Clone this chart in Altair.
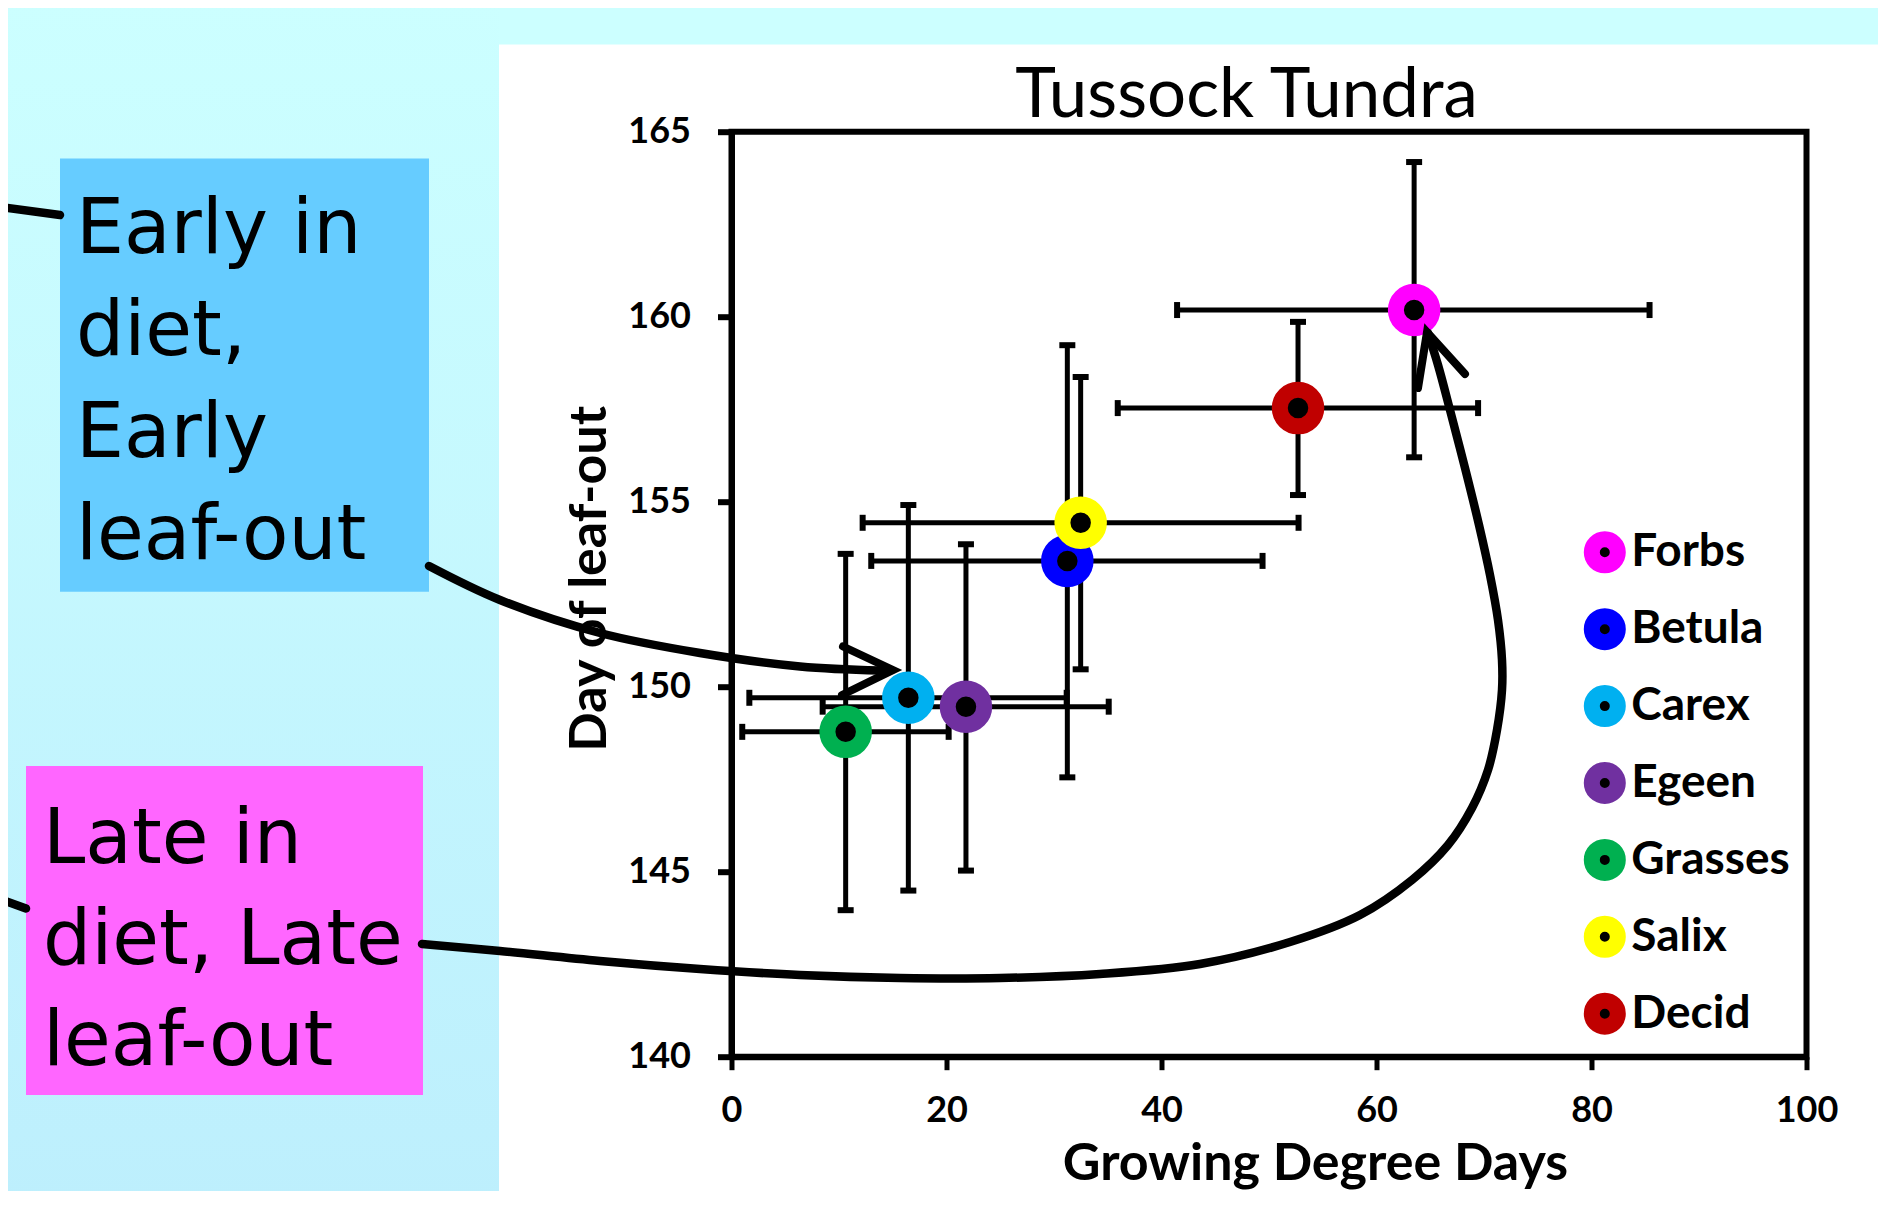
import altair as alt
import pandas as pd

# ---------------- data ----------------
groups = ["Forbs", "Betula", "Carex", "Egeen", "Grasses", "Salix", "Decid"]
colors = ["#FF00FF", "#0000FF", "#00B0F0", "#7030A0", "#00B050", "#FFFF00", "#C00000"]
gdd = [63.5, 31.24, 16.45, 21.81, 10.62, 32.48, 52.7]
gdd_lo = [41.45, 13.0, 1.66, 8.48, 1.0, 12.2, 35.93]
gdd_hi = [85.4, 49.4, 31.18, 35.09, 20.2, 52.75, 69.45]
day = [160.18, 153.4, 149.7, 149.46, 148.78, 154.43, 157.53]
day_lo = [156.2, 147.55, 144.49, 145.03, 143.96, 150.47, 155.18]
day_hi = [164.18, 159.23, 154.91, 153.85, 153.59, 158.37, 159.86]

x_ticks = [0, 20, 40, 60, 80, 100]
y_ticks = [140, 145, 150, 155, 160, 165]

df = pd.DataFrame({"Group": groups, "GDD": gdd, "GDD_lo": gdd_lo, "GDD_hi": gdd_hi,
                   "Day": day, "Day_lo": day_lo, "Day_hi": day_hi})

# ---------------- layout ----------------
PW, PH = 1075, 925          # plot area
PAD_L, PAD_T = 723.5, 123.7
TOTAL_W, TOTAL_H = 1870, 1183
PAD_R = TOTAL_W - PAD_L - PW
PAD_B = TOTAL_H - PAD_T - PH
OX, OY = 8 + PAD_L, 8 + PAD_T   # page position of plot origin

def px(v):  # page x -> plot x
    return v - OX

def py(v):  # page y -> plot y
    return v - OY

# annotation geometry (page pixels), converted to data units below
def to_gdd(v):
    return (v - OX) / (PW / 100.0)

def to_day(v):
    return 165 - (v - OY) / (PH / 25.0)

arrow_paths = {
    "early_tail": [(0, 207), (60, 215)],
    "early": [(429, 566), (500, 600), (600, 633), (700, 653), (800, 666.5), (880, 670.5), (890, 670.5)],
    "late_tail": [(0, 899), (26, 908.5)],
    "late": [(422, 944), (500, 951), (600, 961), (700, 969), (800, 975), (900, 978), (1000, 978),
             (1100, 974), (1200, 964), (1290, 942), (1360, 915), (1412, 880), (1448, 845),
             (1472, 808), (1488, 770), (1497, 730), (1502, 690), (1502, 660), (1498, 620),
             (1490, 575), (1479, 525), (1465, 468), (1450, 410), (1438, 365), (1428, 333)],
}
arrow_heads = {
    "early_head": [(843, 646.5), (893, 670), (842, 695)],
    "late_head": [(1418, 388), (1427, 332), (1465, 374)],
}

def path_df(paths):
    rows = []
    for name, pts in paths.items():
        for i, (a, b) in enumerate(pts):
            rows.append({"seg": name, "i": i, "GDD": to_gdd(a), "Day": to_day(b)})
    return pd.DataFrame(rows)

curves = path_df(arrow_paths)
heads = path_df(arrow_heads)

# ---------------- scales / axes ----------------
xs = alt.Scale(domain=[0, 100], nice=False, zero=False)
ys = alt.Scale(domain=[140, 165], nice=False, zero=False)

xaxis = alt.Axis(values=x_ticks, grid=False, domainColor="black", domainWidth=6,
                 tickColor="black", tickWidth=5, tickSize=13,
                 labelFont="Lato", labelFontWeight="bold", labelFontSize=36, labelColor="black",
                 labelPadding=24, labelFlush=False, labelOverlap=False,
                 titleFont="Lato", titleFontWeight="bold", titleFontSize=52, titleColor="black",
                 titleX=583.5, titleY=122.5, titleBaseline="alphabetic", titleAlign="center")
yaxis = alt.Axis(values=y_ticks, grid=False, domainColor="black", domainWidth=6,
                 tickColor="black", tickWidth=6, tickSize=14,
                 labelFont="Lato", labelFontWeight="bold", labelFontSize=36, labelColor="black",
                 labelPadding=27, labelFlush=False, labelOverlap=False,
                 titleFont="Lato", titleFontWeight="bold", titleFontSize=52, titleColor="black",
                 titleAngle=270, titleX=-126.5, titleY=446.6, titleBaseline="alphabetic",
                 titleAlign="center")

def X(field):
    return alt.X(field, type="quantitative", scale=xs, axis=xaxis, title="Growing Degree Days")

def Y(field):
    return alt.Y(field, type="quantitative", scale=ys, axis=yaxis, title="Day of leaf-out")

one = pd.DataFrame({"k": [0]})

# ---------------- slide decoration ----------------
cyan_left = alt.Chart(one).mark_rect(
    color=alt.Gradient(gradient="linear",
                       stops=[alt.GradientStop(color="#CCFFFF", offset=0),
                              alt.GradientStop(color="#BDEFFD", offset=1)],
                       x1=0, x2=0, y1=0, y2=1)
).encode(x=alt.value(px(0)), x2=alt.value(px(499)), y=alt.value(py(0)), y2=alt.value(py(1210)))

cyan_top = alt.Chart(one).mark_rect(color="#CCFFFF").encode(
    x=alt.value(px(499)), x2=alt.value(px(1890)), y=alt.value(py(0)), y2=alt.value(py(44.5)))

blue_box = alt.Chart(one).mark_rect(color="#66CCFF").encode(
    x=alt.value(px(60)), x2=alt.value(px(429)), y=alt.value(py(158.4)), y2=alt.value(py(591.8)))
pink_box = alt.Chart(one).mark_rect(color="#FF66FF").encode(
    x=alt.value(px(26)), x2=alt.value(px(423)), y=alt.value(py(766)), y2=alt.value(py(1095)))

blue_text = alt.Chart(one).mark_text(
    text=["Early in", "diet,", "Early", "leaf-out"], font="DejaVu Sans", fontSize=76,
    lineHeight=102, align="left", baseline="alphabetic", color="black"
).encode(x=alt.value(px(76)), y=alt.value(py(253.3)))
pink_text = alt.Chart(one).mark_text(
    text=["Late in", "diet, Late", "leaf-out"], font="DejaVu Sans", fontSize=76,
    lineHeight=101, align="left", baseline="alphabetic", color="black"
).encode(x=alt.value(px(43)), y=alt.value(py(862.6)))

plot_title = alt.Chart(one).mark_text(
    text="Tussock Tundra", font="Lato", fontSize=69, fontWeight="normal",
    align="center", baseline="alphabetic", color="black"
).encode(x=alt.value(px(1246.5)), y=alt.value(py(116.7)))

# ---------------- data marks ----------------
base = alt.Chart(df)
x_err = base.mark_rule(color="black", strokeWidth=5).encode(
    x=X("GDD_lo"), x2="GDD_hi", y=Y("Day"))
y_err = base.mark_rule(color="black", strokeWidth=5).encode(
    x=X("GDD"), y=Y("Day_lo"), y2="Day_hi")
x_cap_lo = base.mark_tick(orient="vertical", color="black", size=16, thickness=6, opacity=1).encode(
    x=X("GDD_lo"), y=Y("Day"))
x_cap_hi = base.mark_tick(orient="vertical", color="black", size=16, thickness=6, opacity=1).encode(
    x=X("GDD_hi"), y=Y("Day"))
y_cap_lo = base.mark_tick(orient="horizontal", color="black", size=16, thickness=6, opacity=1).encode(
    x=X("GDD"), y=Y("Day_lo"))
y_cap_hi = base.mark_tick(orient="horizontal", color="black", size=16, thickness=6, opacity=1).encode(
    x=X("GDD"), y=Y("Day_hi"))

points = base.mark_point(shape="circle", filled=False, fill="black", size=1332,
                         strokeWidth=16, opacity=1).encode(
    x=X("GDD"), y=Y("Day"),
    stroke=alt.Stroke("Group:N", scale=alt.Scale(domain=groups, range=colors),
                      legend=alt.Legend(title=None, orient="none", legendX=850.3, legendY=397.6,
                                        symbolType="circle", symbolSize=676, symbolStrokeWidth=16,
                                        symbolFillColor="black", labelFont="Lato",
                                        labelFontWeight="bold", labelFontSize=46, labelColor="black",
                                        labelOffset=3.5, rowPadding=-13.1, padding=0,
                                        labelLimit=400)),
    order=alt.Order("i:Q")
).transform_window(i="row_number()")

arrows = alt.Chart(curves).mark_line(color="black", strokeWidth=8.5, interpolate="catmull-rom",
                                     strokeCap="round").encode(
    x=X("GDD"), y=Y("Day"), detail="seg:N", order="i:Q")
heads_l = alt.Chart(heads).mark_line(color="black", strokeWidth=8, strokeCap="round",
                                     strokeJoin="miter").encode(
    x=X("GDD"), y=Y("Day"), detail="seg:N", order="i:Q")

chart = alt.layer(
    cyan_left, cyan_top, blue_box, pink_box, blue_text, pink_text, plot_title,
    x_err, y_err, x_cap_lo, x_cap_hi, y_cap_lo, y_cap_hi, points, arrows, heads_l
).properties(
    width=PW, height=PH,
    autosize=alt.AutoSizeParams(type="none"),
    padding={"left": PAD_L, "top": PAD_T, "right": PAD_R, "bottom": PAD_B},
).configure(background="white").configure_view(stroke="black", strokeWidth=6)

chart.save("out.html", embed_options={"renderer": "svg", "actions": False})
